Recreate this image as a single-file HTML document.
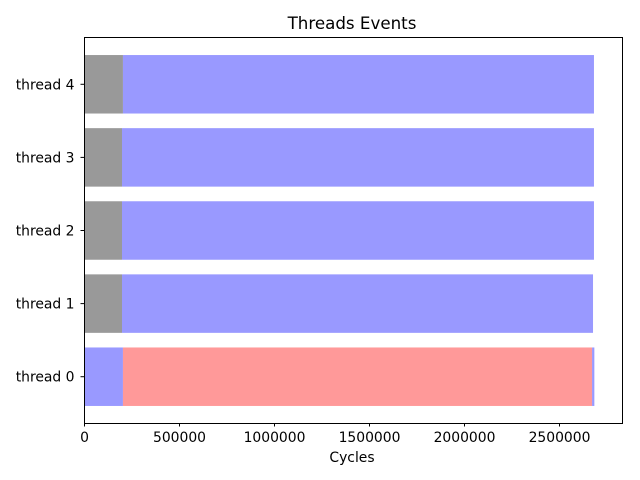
<!DOCTYPE html>
<html><head><meta charset="utf-8"><style>
body{margin:0;background:#fff}
svg{display:block;font-family:"DejaVu Sans","Liberation Sans",sans-serif}
</style></head><body>
<svg id="c" width="640" height="480">
<text x="352" y="29" font-size="16.7" text-anchor="middle">Threads Events</text>
<text x="352" y="462" font-size="13.9" text-anchor="middle">Cycles</text>
<g id="bars"></g>
<rect x="84.5" y="37.5" width="538" height="386" fill="none" stroke="#000" stroke-width="1"/>
<g id="ticks"></g>
</svg>
<script>
const threads = ["thread 0","thread 1","thread 2","thread 3","thread 4"];
const segStarts = [[0,205000,2674000],[0,200000],[0,200000],[0,200000],[0,205000]];
const segEnds = [[205000,2674000,2686000],[200000,2679000],[200000,2684000],[200000,2684000],[205000,2684000]];
const segColors = [["#9999ff","#ff9999","#9999ff"],["#999999","#9999ff"],["#999999","#9999ff"],["#999999","#9999ff"],["#999999","#9999ff"]];
const xTicks = [0,500000,1000000,1500000,2000000,2500000];
const NS="http://www.w3.org/2000/svg";
const X0=84,X1=623,Y0=37,Y1=423,xmax=2836800,ymin=-0.64,ymax=4.64;
const xs=v=>X0+(v/xmax)*(X1-X0);
const ys=v=>Y1-(v-ymin)/(ymax-ymin)*(Y1-Y0);
const bh=(Y1-Y0)/(ymax-ymin)*0.8;
const bars=document.getElementById('bars'),ticks=document.getElementById('ticks');
threads.forEach((t,i)=>{
  segStarts[i].forEach((s,j)=>{
    const r=document.createElementNS(NS,'rect');
    r.setAttribute('x',xs(s));r.setAttribute('width',xs(segEnds[i][j])-xs(s));
    r.setAttribute('y',ys(i)-bh/2+0.5);r.setAttribute('height',bh);r.setAttribute('fill',segColors[i][j]);
    
    
    bars.appendChild(r);
  });
  const l=document.createElementNS(NS,'line');
  l.setAttribute('x1',X0-3.5);l.setAttribute('x2',X0);l.setAttribute('y1',ys(i)+0.5);l.setAttribute('y2',ys(i)+0.5);l.setAttribute('stroke','#000');
  
  
  ticks.appendChild(l);
  const tx=document.createElementNS(NS,'text');
  tx.setAttribute('x',X0-9.5);tx.setAttribute('y',ys(i)+5.5);tx.setAttribute('font-size','13.9');tx.setAttribute('text-anchor','end');
  tx.textContent=t;
  
  
  ticks.appendChild(tx);
});
xTicks.forEach(v=>{
  const x=Math.round(xs(v))+0.5;
  const l=document.createElementNS(NS,'line');
  l.setAttribute('x1',x);l.setAttribute('x2',x);l.setAttribute('y1',Y1);l.setAttribute('y2',Y1+3.5);l.setAttribute('stroke','#000');
  
  
  ticks.appendChild(l);
  const tx=document.createElementNS(NS,'text');
  tx.setAttribute('x',x);tx.setAttribute('y',Y1+19);tx.setAttribute('font-size','13.9');tx.setAttribute('text-anchor','middle');
  tx.textContent=v;
  
  
  ticks.appendChild(tx);
});
</script>
</body></html>
